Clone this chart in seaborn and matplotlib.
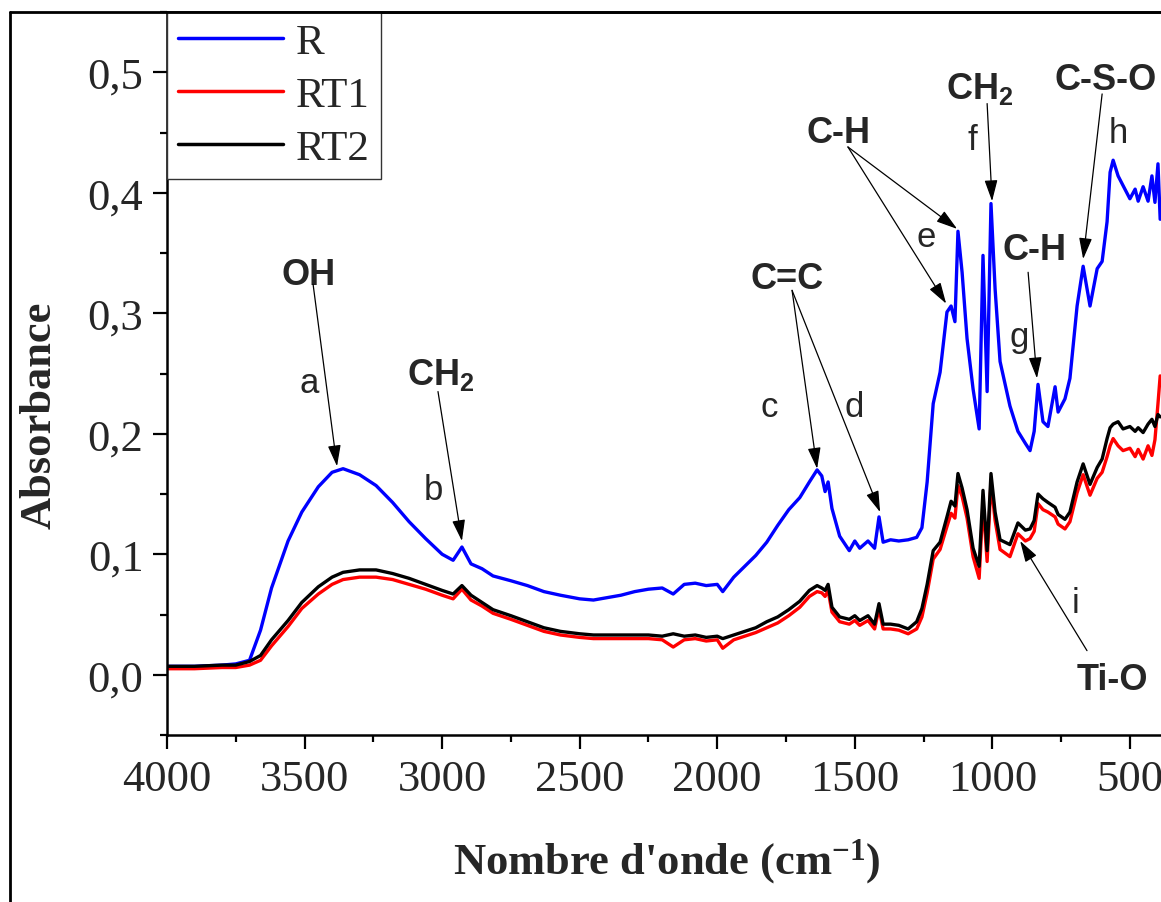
import pandas as pd
import matplotlib
matplotlib.use("Agg")
import matplotlib.pyplot as plt
from matplotlib.lines import Line2D
from matplotlib.ticker import FixedLocator, MultipleLocator, FuncFormatter
import seaborn as sns

# wavenumbers (cm-1) and absorbance
wn = [4000, 3900, 3800, 3750, 3700, 3660, 3620, 3560, 3510, 3450, 3400, 3360,
      3300, 3240, 3180, 3120, 3060, 3000, 2960, 2928, 2895, 2855, 2815, 2750,
      2690, 2630, 2570, 2500, 2450, 2400, 2350, 2300, 2250, 2200, 2160, 2120,
      2080, 2040, 2000, 1980, 1940, 1900, 1860, 1820, 1780, 1740, 1700, 1665,
      1637, 1620, 1608, 1597, 1583, 1555, 1520, 1500, 1482, 1452, 1428, 1412,
      1397, 1370, 1340, 1306, 1275, 1256, 1237, 1215, 1190, 1165, 1150, 1136,
      1125, 1110, 1092, 1070, 1048, 1034, 1019, 1005, 990, 972, 936, 907,
      880, 863, 848, 834, 816, 798, 772, 761, 736, 718, 692, 670,
      645, 619, 601, 583, 572, 561, 543, 525, 500, 481, 470, 452,
      434, 420, 409, 398, 390]

r = [0.007, 0.007, 0.008, 0.009, 0.012, 0.037, 0.072, 0.111, 0.135, 0.156, 0.168, 0.171,
     0.166, 0.157, 0.143, 0.127, 0.113, 0.100, 0.095, 0.106, 0.092, 0.088, 0.082, 0.078,
     0.074, 0.069, 0.066, 0.063, 0.062, 0.064, 0.066, 0.069, 0.071, 0.072, 0.067, 0.075,
     0.076, 0.074, 0.075, 0.069, 0.081, 0.090, 0.099, 0.110, 0.124, 0.137, 0.147, 0.160,
     0.170, 0.165, 0.152, 0.160, 0.138, 0.115, 0.103, 0.111, 0.105, 0.111, 0.105, 0.131,
     0.110, 0.112, 0.111, 0.112, 0.114, 0.122, 0.160, 0.225, 0.251, 0.301, 0.306, 0.293,
     0.368, 0.334, 0.279, 0.237, 0.204, 0.348, 0.235, 0.391, 0.320, 0.260, 0.223, 0.202,
     0.192, 0.186, 0.202, 0.241, 0.210, 0.206, 0.239, 0.218, 0.229, 0.246, 0.306, 0.339,
     0.306, 0.337, 0.343, 0.376, 0.417, 0.427, 0.414, 0.406, 0.395, 0.403, 0.393, 0.405,
     0.393, 0.414, 0.392, 0.424, 0.378]

rt1 = [0.005, 0.005, 0.006, 0.006, 0.008, 0.012, 0.024, 0.040, 0.055, 0.067, 0.075, 0.079,
       0.081, 0.081, 0.079, 0.075, 0.071, 0.066, 0.063, 0.071, 0.062, 0.057, 0.051, 0.046,
       0.041, 0.036, 0.033, 0.031, 0.030, 0.030, 0.030, 0.030, 0.030, 0.029, 0.023, 0.029,
       0.030, 0.028, 0.029, 0.022, 0.029, 0.032, 0.035, 0.039, 0.043, 0.049, 0.056, 0.065,
       0.069, 0.068, 0.065, 0.070, 0.052, 0.044, 0.042, 0.045, 0.041, 0.045, 0.038, 0.055,
       0.038, 0.038, 0.037, 0.034, 0.038, 0.048, 0.068, 0.096, 0.104, 0.123, 0.134, 0.130,
       0.157, 0.148, 0.130, 0.098, 0.080, 0.143, 0.094, 0.160, 0.128, 0.104, 0.098, 0.117,
       0.111, 0.113, 0.119, 0.142, 0.137, 0.135, 0.131, 0.125, 0.121, 0.127, 0.151, 0.166,
       0.149, 0.163, 0.168, 0.181, 0.190, 0.196, 0.190, 0.186, 0.188, 0.181, 0.187, 0.179,
       0.190, 0.182, 0.195, 0.225, 0.248]

rt2 = [0.007, 0.007, 0.008, 0.008, 0.011, 0.016, 0.029, 0.045, 0.060, 0.073, 0.081, 0.085,
       0.087, 0.087, 0.084, 0.080, 0.075, 0.070, 0.067, 0.074, 0.066, 0.060, 0.054, 0.049,
       0.044, 0.039, 0.036, 0.034, 0.033, 0.033, 0.033, 0.033, 0.033, 0.032, 0.034, 0.032,
       0.033, 0.031, 0.032, 0.030, 0.033, 0.036, 0.039, 0.044, 0.048, 0.054, 0.061, 0.070,
       0.074, 0.072, 0.070, 0.075, 0.056, 0.048, 0.046, 0.049, 0.045, 0.049, 0.042, 0.059,
       0.042, 0.042, 0.041, 0.038, 0.044, 0.055, 0.075, 0.103, 0.110, 0.131, 0.144, 0.140,
       0.167, 0.155, 0.137, 0.105, 0.090, 0.153, 0.103, 0.167, 0.135, 0.112, 0.108, 0.126,
       0.120, 0.121, 0.128, 0.150, 0.146, 0.143, 0.139, 0.133, 0.129, 0.135, 0.160, 0.175,
       0.158, 0.172, 0.179, 0.196, 0.205, 0.208, 0.210, 0.204, 0.206, 0.202, 0.205, 0.201,
       0.208, 0.212, 0.206, 0.216, 0.214]

samples = ["R", "RT1", "RT2"]

# band labels: text, x, y (baseline), bold
labels = [("OH", 3487, 0.3245, True), ("a", 3484, 0.235, False),
          ("CH$\\mathregular{_2}$", 3004, 0.2415, True), ("b", 3033, 0.146, False),
          ("C=C", 1746, 0.321, True), ("c", 1812, 0.215, False), ("d", 1503, 0.215, False),
          ("C-H", 1561, 0.442, True), ("e", 1241, 0.356, False),
          ("CH$\\mathregular{_2}$", 1045, 0.479, True), ("f", 1074, 0.4365, False),
          ("C-S-O", 590, 0.486, True), ("h", 543, 0.442, False),
          ("C-H", 848, 0.345, True), ("g", 903, 0.273, False),
          ("Ti-O", 565, -0.0116, True), ("i", 699, 0.052, False)]

# arrows: (start x, start y) -> (tip x, tip y)
arrows = [((3469, 0.324), (3382, 0.173)),
          ((3015, 0.235), (2928, 0.111)),
          ((1728, 0.319), (1637, 0.171)),
          ((1728, 0.319), (1408, 0.135)),
          ((1525, 0.438), (1128, 0.370)),
          ((1525, 0.438), (1168, 0.308)),
          ((1019, 0.474), (1001, 0.393)),
          ((601, 0.482), (670, 0.345)),
          ((870, 0.334), (838, 0.246)),
          ((656, 0.020), (899, 0.111))]

df = pd.DataFrame({
    "wn": wn * 3,
    "A": r + rt1 + rt2,
    "sample": [s for s in samples for _ in wn],
})

sns.set_theme(style="ticks")
plt.rcParams["font.family"] = ["Liberation Serif", "DejaVu Serif"]

W, H = 1161, 903
fig = plt.figure(figsize=(W / 100, H / 100), dpi=100)
ax = fig.add_axes([167 / W, 1 - 736 / H, 1 - 167 / W, (736 - 13) / H])

sns.lineplot(data=df, x="wn", y="A", hue="sample", hue_order=samples,
             palette={"R": "#0000ff", "RT1": "#ff0000", "RT2": "black"},
             estimator=None, sort=False, lw=2.4, ax=ax)

ax.set_xlim(4000, 387)
ax.set_ylim(-0.05, 0.55)
ax.xaxis.set_major_locator(MultipleLocator(500))
ax.xaxis.set_minor_locator(MultipleLocator(250))
ax.yaxis.set_major_locator(FixedLocator([0.0, 0.1, 0.2, 0.3, 0.4, 0.5]))
ax.yaxis.set_minor_locator(MultipleLocator(0.05))
ax.yaxis.set_major_formatter(FuncFormatter(lambda v, p: f"{v:.1f}".replace(".", ",")))
ax.tick_params(which="major", length=10, width=1.6, labelsize=32, pad=7, color="black")
ax.tick_params(which="minor", length=5, width=1.6, color="black")
ax.spines["right"].set_visible(False)
for s in ["left", "bottom", "top"]:
    ax.spines[s].set_linewidth(1.8)
    ax.spines[s].set_color("black")

ax.set_xlabel("Nombre d'onde (cm$\\mathregular{^{-1}}$)", fontsize=32, fontweight="bold")
ax.set_ylabel("Absorbance", fontsize=32, fontweight="bold")
ax.xaxis.set_label_coords(0.503, -0.14)
ax.yaxis.set_label_coords(-0.108, 0.444)

handles, names = ax.get_legend_handles_labels()
leg = ax.legend(handles, names, loc="upper left", borderaxespad=0, fontsize=31,
                frameon=True, fancybox=False, edgecolor="#333333", framealpha=1,
                handlelength=2.45, handletextpad=0.3, labelspacing=0.32, borderpad=0.25)
leg.get_frame().set_linewidth(1.0)
for h in leg.get_lines():
    h.set_linewidth(2.5)

for txt, x, y, bold in labels:
    ax.text(x, y, txt, ha="center", va="baseline", family=["Liberation Sans", "DejaVu Sans"],
            fontsize=26 if bold else 25, fontweight="bold" if bold else "normal")

for (x0, y0), (x1, y1) in arrows:
    ax.annotate("", xy=(x1, y1), xytext=(x0, y0),
                arrowprops=dict(arrowstyle="-|>,head_length=0.65,head_width=0.2",
                                mutation_scale=20, lw=0.9, color="black",
                                shrinkA=0, shrinkB=0))

# outer frame of the original figure
fy = 1 - 13 / H
fig.add_artist(Line2D([10 / W, 10 / W], [0, fy], transform=fig.transFigure, lw=2, color="black"))
fig.add_artist(Line2D([10 / W, 1], [fy, fy], transform=fig.transFigure, lw=2, color="black"))

fig.savefig("out.png", dpi=100)
